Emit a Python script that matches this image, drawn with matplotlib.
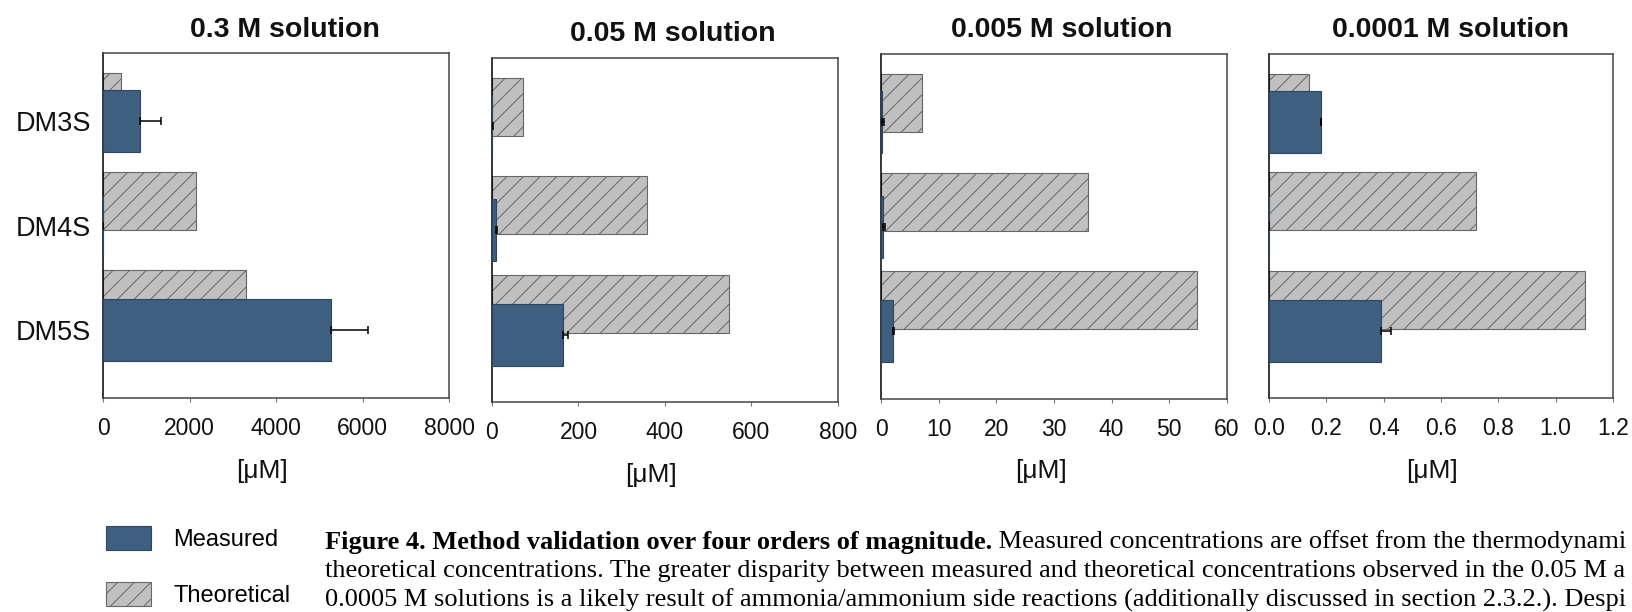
import matplotlib
matplotlib.use("Agg")
import matplotlib.pyplot as plt
import numpy as np
from matplotlib.ticker import MultipleLocator, FormatStrFormatter

# ---------------- data ----------------
categories = ["DM3S", "DM4S", "DM5S"]
titles = ["0.3 M solution", "0.05 M solution", "0.005 M solution", "0.0001 M solution"]
measured_03 = [855, 0, 5281]
measured_005 = [1.0, 8.6, 164.5]
measured_0005 = [0.15, 0.35, 2.03]
measured_00001 = [0.18, 0.0, 0.39]
err_03 = [495, 0, 846]
err_005 = [1.0, 3.0, 12.0]
err_0005 = [0.3, 0.3, 0.23]
err_00001 = [0.0, 0.0, 0.035]
theoretical_03 = [425, 2159, 3316]
theoretical_005 = [71.8, 359, 549]
theoretical_0005 = [7.06, 35.9, 54.8]
theoretical_00001 = [0.141, 0.721, 1.104]
x_max = [8000, 800, 60, 1.2]
x_step = [2000, 200, 10, 0.2]
x_fmt = ["%d", "%d", "%d", "%.1f"]
xlabel = "[μM]"
legend_labels = ["Measured", "Theoretical"]
caption_bold = "Figure 4. Method validation over four orders of magnitude."
caption_l1 = " Measured concentrations are offset from the thermodynami"
caption_l2 = ("theoretical concentrations. The greater disparity between measured and "
              "theoretical concentrations observed in the 0.05 M a")
caption_l3 = ("0.0005 M solutions is a likely result of ammonia/ammonium side reactions "
              "(additionally discussed in section 2.3.2.). Despi")

measured = [measured_03, measured_005, measured_0005, measured_00001]
errors = [err_03, err_005, err_0005, err_00001]
theoretical = [theoretical_03, theoretical_005, theoretical_0005, theoretical_00001]

# ---------------- style ----------------
W, H = 1633, 612
DPI = 100
plt.rcParams["font.family"] = ["Liberation Sans", "DejaVu Sans"]
plt.rcParams["hatch.linewidth"] = 0.7

BLUE = "#3e5f80"
BLUE_EDGE = "#2c4560"
GRAY = "#c0c0c0"
HATCH_EDGE = "#666666"

fig = plt.figure(figsize=(W / DPI, H / DPI), dpi=DPI)

# axes boxes in pixels: left, right, top, bottom
boxes = [(103, 449, 53, 398), (492, 838, 58, 402), (881, 1227, 54, 399), (1269, 1613, 54, 398)]
title_pos = [(285, 30), (673, 34), (1062, 30), (1451, 30)]
xlabel_pos = [(262, 471), (651, 475), (1041, 471), (1432, 471)]

meas_h = 0.593
theo_h = 0.555
theo_spacing = 0.942
theo_shift = -0.18

idx = np.arange(len(categories))
handles = None
for k in range(4):
    l, r, t, b = boxes[k]
    ax = fig.add_axes([l / W, 1 - b / H, (r - l) / W, (b - t) / H])
    tb = ax.barh(idx * theo_spacing + theo_shift, theoretical[k], height=theo_h,
                 color=GRAY, edgecolor=HATCH_EDGE, linewidth=0.8, hatch="//", zorder=2)
    mb = ax.barh(idx, measured[k], height=meas_h, color=BLUE, edgecolor=BLUE_EDGE,
                 linewidth=0.8, zorder=3)
    xe = np.array(errors[k])
    ax.errorbar(measured[k], idx, xerr=[np.zeros_like(xe), xe], fmt="none",
                ecolor="black", elinewidth=1.1, capsize=3.0, capthick=1.1, zorder=4)
    if handles is None:
        handles = [mb, tb]
    ax.set_xlim(0, x_max[k])
    ax.set_ylim(2.645, -0.648)
    ax.xaxis.set_major_locator(MultipleLocator(x_step[k]))
    ax.xaxis.set_major_formatter(FormatStrFormatter(x_fmt[k]))
    ax.tick_params(axis="x", direction="out", length=3, width=0.8, color="#777777",
                   pad=11, labelsize=16.5, labelcolor="#111111")
    ax.set_yticks(idx)
    if k == 0:
        ax.set_yticklabels(categories)
        ax.tick_params(axis="y", length=0, pad=8.5, labelsize=19.5, labelcolor="#111111")
    else:
        ax.set_yticklabels([])
        ax.tick_params(axis="y", length=0)
    for name, sp in ax.spines.items():
        sp.set_linewidth(1.1)
        sp.set_color("#000000" if name == "left" else "#444444")
    fig.text(title_pos[k][0] / W, 1 - title_pos[k][1] / H, titles[k], ha="center",
             va="center", fontsize=20.5, fontweight="bold", color="#111111")
    fig.text(xlabel_pos[k][0] / W, 1 - xlabel_pos[k][1] / H, xlabel, ha="center",
             va="center", fontsize=19, color="#111111")

# legend
fig.legend(handles, legend_labels, loc="upper left",
           bbox_to_anchor=(106 / W, 1 - 526 / H), frameon=False, fontsize=17,
           handlelength=1.9, handleheight=1.2, handletextpad=0.95,
           labelspacing=1.3, borderpad=0, borderaxespad=0)

# caption
serif = ["Liberation Serif", "DejaVu Serif"]
cap_fs = 19
cx = 325 / W
tb_ = fig.text(cx, 1 - 542 / H, caption_bold, fontsize=cap_fs, fontweight="bold",
               family=serif, va="center", ha="left")
renderer = fig.canvas.get_renderer()
bb = tb_.get_window_extent(renderer)
fig.text(bb.x1 / W, 1 - 542 / H, caption_l1, fontsize=cap_fs, family=serif,
         va="center", ha="left")
fig.text(cx, 1 - 571 / H, caption_l2, fontsize=cap_fs, family=serif, va="center", ha="left")
fig.text(cx, 1 - 600 / H, caption_l3, fontsize=cap_fs, family=serif, va="center", ha="left")

fig.savefig("out.png", dpi=DPI)
